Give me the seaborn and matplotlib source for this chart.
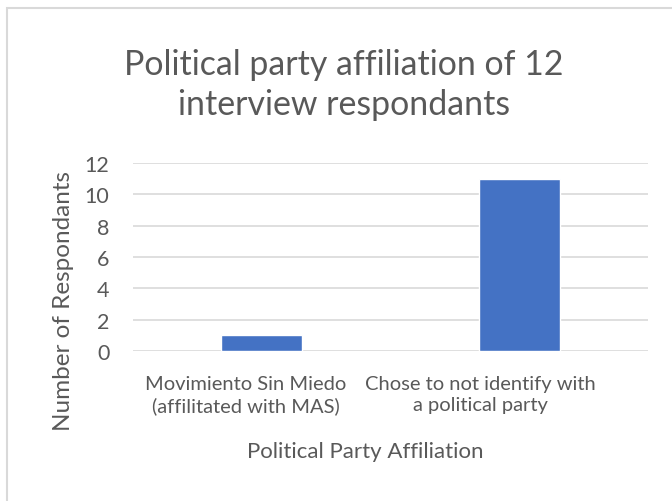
import matplotlib
matplotlib.use("Agg")
import matplotlib.pyplot as plt
from matplotlib.patches import Rectangle
from matplotlib.transforms import Affine2D
import seaborn as sns
import pandas as pd

categories = ["Movimiento Sin Miedo\n(affilitated with MAS)",
              "Chose to not identify with\na political party"]
respondents = [1, 11]
y_ticks = [0, 2, 4, 6, 8, 10, 12]

title = "Political party affiliation of 12\ninterview respondants"
x_label = "Political Party Affiliation"
y_label = "Number of Respondants"

text_gray = "#595959"
grid_gray = "#d9d9d9"
bar_blue = "#4472c4"

sns.set_theme(style="white")
plt.rcParams["font.family"] = ["Lato", "DejaVu Sans"]

df = pd.DataFrame({"category": categories, "count": respondents})

W, H = 672, 502
fig = plt.figure(figsize=(W / 100, H / 100), dpi=100)
fig.patch.set_facecolor("white")

# chart-area frame (runs off the right and bottom edges)
fig.patches.append(Rectangle((7 / W, -0.1), 1.2, 1 - 9 / H + 0.1,
                             transform=fig.transFigure, fill=False,
                             edgecolor=grid_gray, linewidth=1.5))

ax = fig.add_axes([133 / W, 1 - 352 / H, (648 - 133) / W, (352 - 164) / H])
sns.barplot(data=df, x="category", y="count", color=bar_blue, width=0.315,
            saturation=1, ax=ax)

ax.set_ylim(0, 12)
ax.set_yticks(y_ticks)
ax.yaxis.grid(True, color=grid_gray, linewidth=1.2)
ax.set_axisbelow(True)
for s in ax.spines.values():
    s.set_visible(False)
ax.tick_params(axis="x", length=0, colors=text_gray, labelsize=14.5, pad=17)
ax.tick_params(axis="y", length=0, colors=text_gray, labelsize=15.5, pad=17)
for lbl in ax.get_xticklabels():
    lbl.set_linespacing(1.32)
# category labels sit slightly left of their bars
for lbl, dx in zip(ax.get_xticklabels(), [-16, -39]):
    lbl.set_transform(lbl.get_transform() + Affine2D().translate(dx, 0))
ax.set_xlabel("")
ax.set_ylabel("")

fig.text(365 / W, 1 - 452 / H, x_label, ha="center", va="center",
         fontsize=16, color=text_gray)
fig.text(63 / W, 1 - 301 / H, y_label, ha="center", va="center",
         rotation=90, fontsize=17.5, color=text_gray)
fig.text(344 / W, 1 - 85 / H, title, ha="center", va="center",
         fontsize=24.4, color=text_gray, linespacing=1.3)

fig.savefig("out.png", dpi=100)
